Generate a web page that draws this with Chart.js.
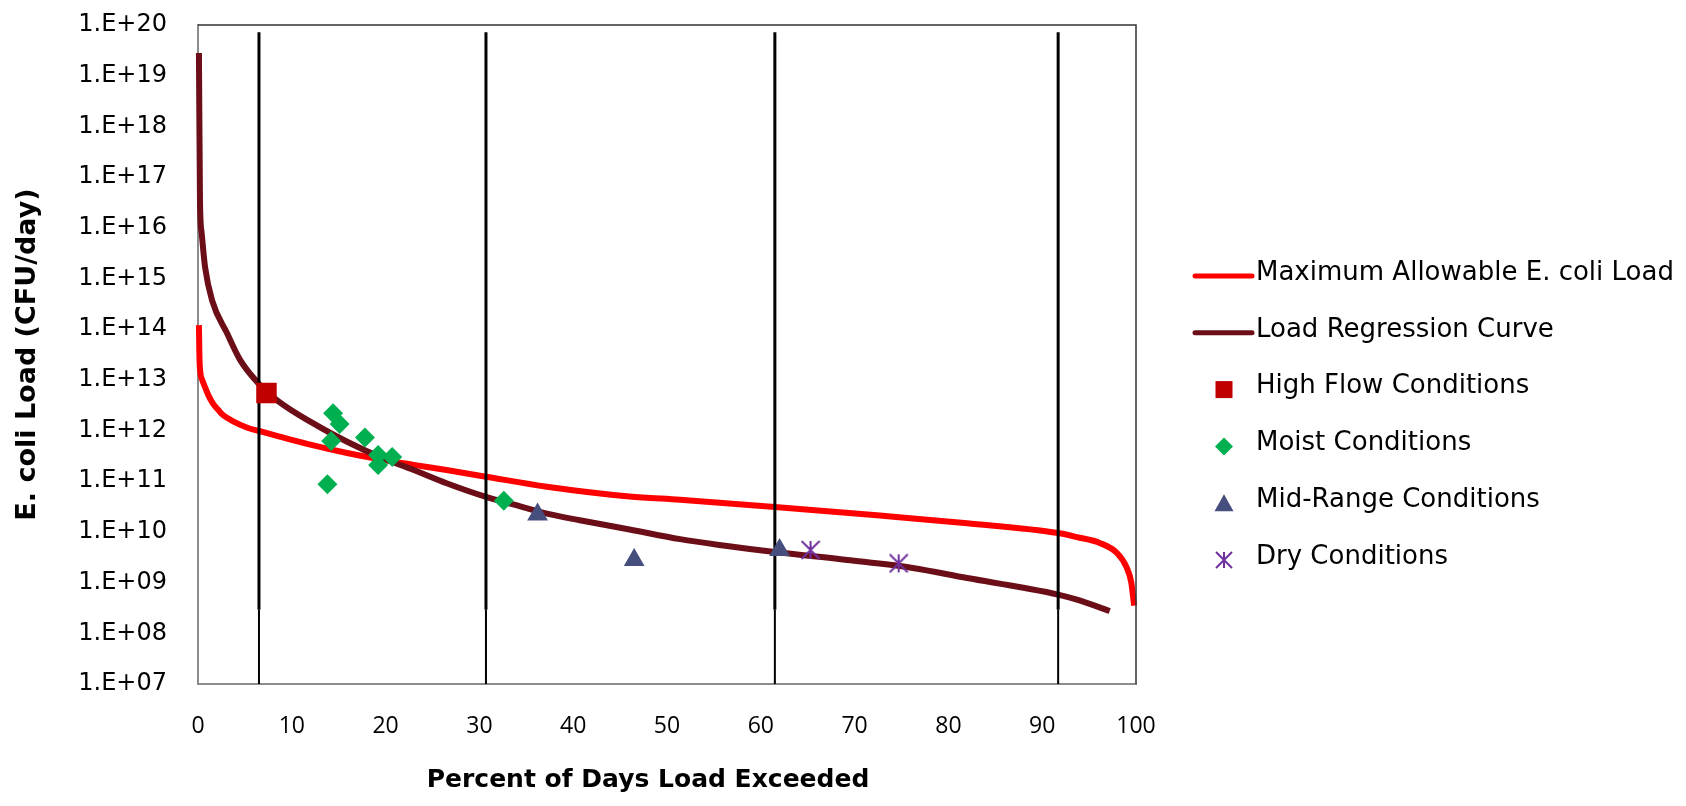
<!DOCTYPE html>
<html><head><meta charset="utf-8">
<script src="https://cdn.jsdelivr.net/npm/chart.js@4.4.1/dist/chart.umd.min.js"></script>
<style>html,body{margin:0;padding:0;background:#fff}canvas{display:block}</style>
</head><body>
<canvas id="c" width="1686" height="806"></canvas>
<script>
// ---- data ----
const maxPct  = [0.1, 0.15, 0.25, 0.45, 0.75, 1.1, 1.6, 2.2, 2.7, 3.8, 5.2, 6.5, 8.7, 12.3, 15.9, 19.4, 23, 26.5, 30.7, 37.2, 46, 51.4, 61.5, 72.7, 82, 91.7, 93.7, 96.2, 98, 99, 99.5, 99.8];
const maxLoad = [1.2e14, 3.0e13, 1.4e13, 1.0e13, 7.2e12, 5.0e12, 3.4e12, 2.5e12, 2.0e12, 1.5e12, 1.15e12, 9.8e11, 7.6e11, 5.1e11, 3.6e11, 2.7e11, 2.1e11, 1.66e11, 1.23e11, 7.8e10, 5.0e10, 4.3e10, 3.1e10, 2.1e10, 1.48e10, 9.5e9, 7.9e9, 6.0e9, 3.8e9, 2.0e9, 1.0e9, 3.5e8];

const regPct  = [0.1, 0.21, 0.39, 0.75, 1.5, 3.1, 4.5, 6.4, 8.4, 12.3, 15.9, 19.4, 23, 26.5, 30.7, 33.6, 37.2, 40.7, 46, 51.4, 56, 61.5, 69.2, 76.2, 82, 88, 91.7, 93.7, 97.2];
const regLoad = [2.8e19, 3.5e16, 7.9e15, 1.7e15, 3.7e14, 8.3e13, 2.45e13, 8.7e12, 4.0e12, 1.38e12, 6.0e11, 3.0e11, 1.66e11, 9.1e10, 4.9e10, 3.5e10, 2.3e10, 1.7e10, 1.12e10, 7.2e9, 5.4e9, 4.0e9, 2.8e9, 1.95e9, 1.23e9, 7.9e8, 5.8e8, 4.6e8, 2.75e8];

const highPct  = [7.3];
const highLoad = [5.5e12];
const moistPct  = [14.4, 15.1, 14.2, 17.8, 19.2, 20.7, 19.2, 13.8, 32.6];
const moistLoad = [2.2e12, 1.35e12, 6.2e11, 7.3e11, 3.3e11, 3.0e11, 2.1e11, 8.7e10, 4.1e10];
const midPct  = [36.2, 46.5, 62.0];
const midLoad = [2.2e10, 2.8e9, 4.4e9];
const dryPct  = [65.3, 74.7];
const dryLoad = [4.4e9, 2.4e9];

const boundaryPct = [6.5, 30.7, 61.5, 91.7];
const boundaryLoadRange = [7.2e19, 2.9e8, 1e7];

const xTickValues = [0, 10, 20, 30, 40, 50, 60, 70, 80, 90, 100];
const yTickValues = [1e7, 1e8, 1e9, 1e10, 1e11, 1e12, 1e13, 1e14, 1e15, 1e16, 1e17, 1e18, 1e19, 1e20];
const yTickLabels = ['1.E+07','1.E+08','1.E+09','1.E+10','1.E+11','1.E+12','1.E+13','1.E+14','1.E+15','1.E+16','1.E+17','1.E+18','1.E+19','1.E+20'];

const xTitle = 'Percent of Days Load Exceeded';
const yTitle = 'E. coli Load (CFU/day)';

// ---- styles ----
const RED = '#FF0000', DARK = '#6B0E17', SQ = '#C00000', DIA = '#00B050', TRI = '#464E7E', AST = '#7030A0';

function pts(xs, ys) { return xs.map((x, i) => ({x: x, y: ys[i]})); }
function vlines(xs, top, bottom) {
  const out = [];
  xs.forEach(x => { out.push({x: x, y: top}); out.push({x: x, y: bottom}); out.push({x: x, y: null}); });
  return out;
}
function makeAsterisk(size, color, lw) {
  const c = document.createElement('canvas');
  c.width = size; c.height = size;
  const g = c.getContext('2d');
  g.strokeStyle = color; g.lineWidth = lw; g.lineCap = 'butt';
  const m = size / 2, r = size / 2 - 1;
  g.beginPath();
  g.moveTo(m, m - r); g.lineTo(m, m + r);
  g.moveTo(m - r, m - r); g.lineTo(m + r, m + r);
  g.moveTo(m - r, m + r); g.lineTo(m + r, m - r);
  g.stroke();
  return c;
}
const asterisk = makeAsterisk(20, AST, 2);
const asteriskSmall = makeAsterisk(18, AST, 2);

const datasets = [
  {label: 'Maximum Allowable E. coli Load', type: 'line', data: pts(maxPct, maxLoad), borderColor: RED, backgroundColor: RED, borderWidth: 6, pointRadius: 0, cubicInterpolationMode: 'monotone', order: 7, clip: 10, legendKind: 'line'},
  {label: 'Load Regression Curve', type: 'line', data: pts(regPct, regLoad), borderColor: DARK, backgroundColor: DARK, borderWidth: 6, pointRadius: 0, cubicInterpolationMode: 'monotone', order: 6, clip: 10, legendKind: 'line'},
  {label: 'Flow zone boundaries (upper)', type: 'line', data: vlines(boundaryPct, boundaryLoadRange[0], boundaryLoadRange[1]), borderColor: '#000', borderWidth: 3, pointRadius: 0, spanGaps: false, order: 5, clip: 10, legendKind: null},
  {label: 'Flow zone boundaries (lower)', type: 'line', data: vlines(boundaryPct, boundaryLoadRange[1], boundaryLoadRange[2]), borderColor: '#000', borderWidth: 2, pointRadius: 0, spanGaps: false, order: 4, clip: 10, legendKind: null},
  {label: 'High Flow Conditions', data: pts(highPct, highLoad), pointStyle: 'rect', pointRadius: 14.5, backgroundColor: SQ, borderColor: SQ, borderWidth: 0, order: 3, legendKind: 'rect'},
  {label: 'Moist Conditions', data: pts(moistPct, moistLoad), pointStyle: 'rectRot', pointRadius: 10, backgroundColor: DIA, borderColor: DIA, borderWidth: 0, order: 2, legendKind: 'rectRot'},
  {label: 'Mid-Range Conditions', data: pts(midPct, midLoad), pointStyle: 'triangle', pointRadius: 12, backgroundColor: TRI, borderColor: TRI, borderWidth: 0, order: 1, legendKind: 'triangle'},
  {label: 'Dry Conditions', data: pts(dryPct, dryLoad), pointStyle: asterisk, pointRadius: 10, backgroundColor: AST, borderColor: AST, order: 0, legendKind: 'asterisk'}
];

// ---- plugins ----
const framePlugin = {
  id: 'frame',
  afterDatasetsDraw(chart) {
    const {ctx, chartArea: a} = chart;
    ctx.save();
    ctx.strokeStyle = '#333'; ctx.lineWidth = 1.5;
    ctx.beginPath();
    ctx.moveTo(a.left, a.top); ctx.lineTo(a.right, a.top); ctx.lineTo(a.right, a.bottom);
    ctx.stroke();
    ctx.restore();
  },
  afterDraw(chart) {
    const {ctx} = chart;
    ctx.save();
    // x-axis title
    ctx.fillStyle = '#000';
    ctx.font = 'bold 25px "DejaVu Sans"';
    ctx.textAlign = 'center'; ctx.textBaseline = 'middle';
    ctx.fillText(xTitle, 648, 780);
    // legend
    const x0 = 1195, x1 = 1252, tx = 1256, mx = 1224;
    let y = 273;
    const gap = 56.8;
    ctx.font = '26px "DejaVu Sans"';
    ctx.textAlign = 'left';
    chart.data.datasets.forEach(ds => {
      if (!ds.legendKind) return;
      const my = y + 3;
      ctx.fillStyle = ds.backgroundColor; ctx.strokeStyle = ds.borderColor;
      if (ds.legendKind === 'line') {
        ctx.lineWidth = 5; ctx.lineCap = 'round';
        ctx.beginPath(); ctx.moveTo(x0, my); ctx.lineTo(x1, my); ctx.stroke();
      } else if (ds.legendKind === 'rect') {
        ctx.fillRect(mx - 8.5, my - 8.5, 17, 17);
      } else if (ds.legendKind === 'rectRot') {
        ctx.beginPath(); ctx.moveTo(mx - 9, my); ctx.lineTo(mx, my - 9); ctx.lineTo(mx + 9, my); ctx.lineTo(mx, my + 9); ctx.closePath(); ctx.fill();
      } else if (ds.legendKind === 'triangle') {
        ctx.beginPath(); ctx.moveTo(mx, my - 9); ctx.lineTo(mx + 9.5, my + 8); ctx.lineTo(mx - 9.5, my + 8); ctx.closePath(); ctx.fill();
      } else if (ds.legendKind === 'asterisk') {
        ctx.drawImage(asteriskSmall, mx - 9, my - 9);
      }
      ctx.fillStyle = '#000';
      ctx.fillText(ds.label, tx, y);
      y += gap;
    });
    ctx.restore();
  }
};

Chart.defaults.color = '#000';
new Chart(document.getElementById('c'), {
  type: 'scatter',
  data: {datasets: datasets},
  plugins: [framePlugin],
  options: {
    responsive: false,
    animation: false,
    devicePixelRatio: 1,
    layout: {padding: {top: 25, right: 550, bottom: 0, left: 0}},
    plugins: {legend: {display: false}, tooltip: {enabled: false}},
    scales: {
      x: {
        type: 'linear', min: 0, max: 100,
        afterFit(s) { s.height = 122; s.paddingLeft = 0; s.paddingRight = 0; },
        afterBuildTicks(s) { s.ticks = xTickValues.map(v => ({value: v})); },
        grid: {display: false, drawTicks: false},
        border: {display: true, color: '#8C8C8C', width: 2},
        ticks: {font: {family: '"Open Sans"', size: 23}, padding: 29, maxRotation: 0, autoSkip: false},
        title: {display: false, text: xTitle}
      },
      y: {
        type: 'logarithmic', min: 1e7, max: 1e20,
        afterFit(s) { s.width = 198; s.paddingTop = 0; s.paddingBottom = 0; },
        afterBuildTicks(s) { s.ticks = yTickValues.map(v => ({value: v})); },
        grid: {display: false, drawTicks: false},
        border: {display: true, color: '#8C8C8C', width: 2},
        ticks: {
          font: {family: '"DejaVu Sans"', size: 24}, padding: 31, autoSkip: false,
          callback(value) { const i = yTickValues.indexOf(value); return i >= 0 ? yTickLabels[i] : ''; }
        },
        title: {display: true, text: yTitle, font: {family: '"DejaVu Sans"', size: 27, weight: 'bold'}, padding: {top: 12, bottom: 0}}
      }
    }
  }
});
</script>
</body></html>
